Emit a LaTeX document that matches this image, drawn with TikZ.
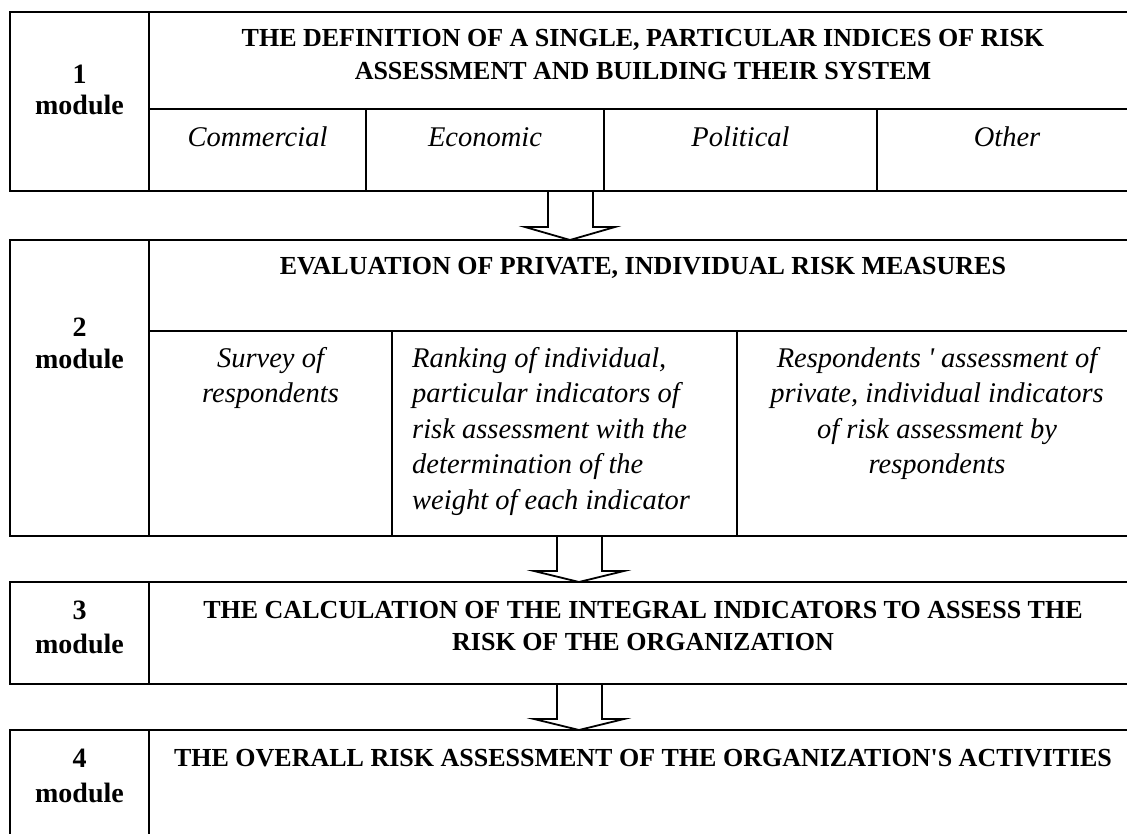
\documentclass[tikz,border=0pt]{standalone}
\usepackage{fontspec}
\setmainfont{Liberation Serif}
\begin{document}
\begin{tikzpicture}[x=1pt,y=-1pt,
  frame/.style={line width=1.8pt, line join=miter},
  hdr/.style={inner sep=0pt, anchor=base, font=\fontsize{26}{32}\selectfont\bfseries},
  modl/.style={inner sep=0pt, anchor=base, font=\fontsize{28}{31}\selectfont\bfseries},
  itl/.style={inner sep=0pt, anchor=base, font=\fontsize{28.5}{35}\selectfont\itshape},
  itll/.style={itl, anchor=base west}]
\useasboundingbox (0,0) rectangle (1127,834);
\clip (0,0) rectangle (1127,834);
% ---- box 1
\coordinate (b1nw) at (10,12);
\coordinate (b1se) at (1137,191);
\draw[frame] (b1nw) rectangle (b1se);
\draw[frame] (149,12) -- (149,191);
\draw[frame] (149,109) -- (1137,109);
\draw[frame] (366,109) -- (366,191);
\draw[frame] (604,109) -- (604,191);
\draw[frame] (877,109) -- (877,191);
\node[modl] (m1a) at (79.5,84) {1};
\node[modl] (m1b) at (79.5,115) {module};
\node[hdr] (h1a) at (643,47) {THE DEFINITION OF A SINGLE, PARTICULAR INDICES OF RISK};
\node[hdr] (h1b) at (643,80) {ASSESSMENT AND BUILDING THEIR SYSTEM};
\node[itl] (c1) at (257.5,147) {Commercial};
\node[itl] (c2) at (485,147) {Economic};
\node[itl] (c3) at (740.5,147) {Political};
\node[itl] (c4) at (1007,147) {Other};
% ---- arrow 1
\coordinate (a1s) at (570,191);
\coordinate (a1t) at (570,240);
\draw[frame] (548,191) -- (548,227) -- (525,227) -- (a1t) -- (615,227) -- (593,227) -- (593,191);
% ---- box 2
\coordinate (b2nw) at (10,240);
\coordinate (b2se) at (1137,536);
\draw[frame] (b2nw) rectangle (b2se);
\draw[frame] (149,240) -- (149,536);
\draw[frame] (149,331) -- (1137,331);
\draw[frame] (392,331) -- (392,536);
\draw[frame] (737,331) -- (737,536);
\node[modl] (m2a) at (79.5,337) {2};
\node[modl] (m2b) at (79.5,368) {module};
\node[hdr] (h2) at (643,275) {EVALUATION OF PRIVATE, INDIVIDUAL RISK MEASURES};
\node[itl] (s1) at (270.5,367) {Survey of};
\node[itl] (s2) at (270.5,402.5) {respondents};
\node[itll] (r1) at (412,367) {Ranking of individual,};
\node[itll] (r2) at (412,402.5) {particular indicators of};
\node[itll] (r3) at (412,438) {risk assessment with the};
\node[itll] (r4) at (412,473.5) {determination of the};
\node[itll] (r5) at (412,509) {weight of each indicator};
\node[itl] (p1) at (937,367) {Respondents \textquotesingle\ assessment of};
\node[itl] (p2) at (937,402.5) {private, individual indicators};
\node[itl] (p3) at (937,438) {of risk assessment by};
\node[itl] (p4) at (937,473.5) {respondents};
% ---- arrow 2
\coordinate (a2t) at (579,582);
\draw[frame] (557,536) -- (557,571) -- (534,571) -- (a2t) -- (624,571) -- (602,571) -- (602,536);
% ---- box 3
\coordinate (b3nw) at (10,582);
\coordinate (b3se) at (1137,684);
\draw[frame] (b3nw) rectangle (b3se);
\draw[frame] (149,582) -- (149,684);
\node[modl] (m3a) at (79.5,619) {3};
\node[modl] (m3b) at (79.5,653) {module};
\node[hdr] (h3a) at (643,618) {THE CALCULATION OF THE INTEGRAL INDICATORS TO ASSESS THE};
\node[hdr] (h3b) at (643,650) {RISK OF THE ORGANIZATION};
% ---- arrow 3
\coordinate (a3t) at (579,730);
\draw[frame] (557,684) -- (557,719) -- (534,719) -- (a3t) -- (624,719) -- (602,719) -- (602,684);
% ---- box 4
\coordinate (b4nw) at (10,730);
\coordinate (b4se) at (1137,900);
\draw[frame] (b4nw) rectangle (b4se);
\draw[frame] (149,730) -- (149,900);
\node[modl] (m4a) at (79.5,767) {4};
\node[modl] (m4b) at (79.5,802) {module};
\node[hdr] (h4) at (643,766) {THE OVERALL RISK ASSESSMENT OF THE ORGANIZATION\textquotesingle S ACTIVITIES};
\end{tikzpicture}
\end{document}
